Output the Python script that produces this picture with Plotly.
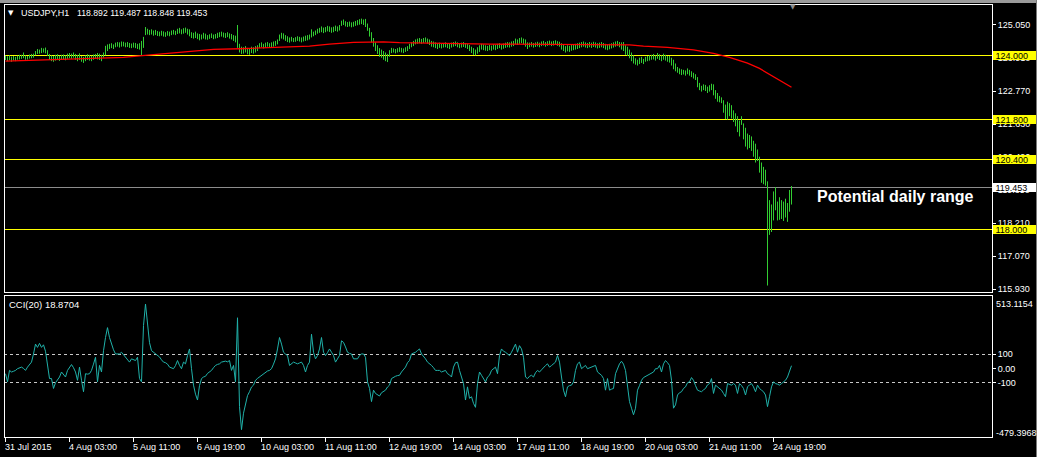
import plotly.graph_objects as go

# ---------------- data ----------------
symbol_title = "USDJPY,H1"
ohlc_title = "118.892 119.487 118.848 119.453"

high = [
    123.99, 123.97, 124.00, 123.96, 123.98, 123.95, 123.99, 124.02,
    124.02, 124.10, 124.00, 123.98, 124.03, 124.05, 124.06,
    124.15, 124.22, 124.20, 124.26, 124.24, 124.27, 124.18,
    124.05, 124.00, 123.98, 124.02, 124.04, 123.99, 124.02, 124.03, 124.00, 124.06,
    124.08, 124.06, 124.10, 124.05, 124.02, 124.07, 123.98, 123.95, 124.00, 124.04, 124.02, 123.99, 124.03, 124.05, 124.08, 124.06, 124.02, 124.10,
    124.33, 124.38, 124.40, 124.42, 124.38, 124.44, 124.46, 124.45, 124.48, 124.47, 124.44, 124.46, 124.43, 124.41, 124.44, 124.43, 124.40, 124.42,
    124.50, 124.64, 124.98,
    124.92, 124.88, 124.90, 124.86, 124.88, 124.84, 124.82, 124.85, 124.83, 124.80, 124.84, 124.82, 124.86, 124.88, 124.85, 124.92, 124.95, 124.90, 124.94, 124.96, 124.92, 124.90, 124.80, 124.78,
    124.82, 124.76, 124.74, 124.72, 124.78, 124.75, 124.70, 124.73, 124.76, 124.72, 124.74, 124.78, 124.80, 124.82, 124.79, 124.77, 124.80, 124.76, 124.74, 124.70, 124.68,
    125.05,
    124.40, 124.30, 124.28, 124.32, 124.26, 124.24, 124.30, 124.28, 124.32, 124.35,
    124.42, 124.45, 124.40, 124.44, 124.46, 124.42, 124.45, 124.48, 124.50, 124.55,
    124.72, 124.78, 124.76, 124.70, 124.66, 124.62, 124.64, 124.60, 124.63, 124.66, 124.64, 124.62, 124.65, 124.68, 124.70, 124.72,
    124.90, 124.82, 124.86, 124.92, 124.95, 125.00, 124.96, 124.98, 125.02, 125.00, 124.97, 124.99, 125.03, 125.00, 125.05,
    125.20, 125.24, 125.18, 125.15, 125.17, 125.14, 125.16, 125.19, 125.22, 125.25, 125.27, 125.24, 125.26,
    125.10, 124.95, 124.80, 124.60, 124.45,
    124.35, 124.25, 124.20, 124.15, 124.10, 124.05, 124.18, 124.26, 124.24, 124.22, 124.25, 124.28, 124.26, 124.24, 124.28, 124.32,
    124.40, 124.45, 124.50, 124.55, 124.58, 124.60, 124.57, 124.60, 124.62, 124.58, 124.55, 124.50, 124.48,
    124.45, 124.42, 124.44, 124.40, 124.43, 124.45, 124.42, 124.40, 124.44, 124.46, 124.48, 124.45, 124.42, 124.44, 124.46, 124.43, 124.40,
    124.36, 124.30, 124.25, 124.20, 124.28, 124.35,
    124.40, 124.38, 124.35, 124.33, 124.36, 124.34, 124.38, 124.36, 124.40, 124.42, 124.38, 124.41, 124.44, 124.46, 124.45, 124.48, 124.50,
    124.58, 124.55, 124.60, 124.62, 124.58, 124.55, 124.45,
    124.44, 124.46, 124.43, 124.45, 124.47, 124.44, 124.48, 124.50, 124.46, 124.49, 124.51, 124.48, 124.50, 124.52, 124.49, 124.47,
    124.42, 124.38, 124.32, 124.35, 124.33, 124.36, 124.38, 124.40, 124.42, 124.44,
    124.46, 124.48, 124.45, 124.43, 124.46, 124.44, 124.47, 124.45, 124.42, 124.44, 124.46, 124.43, 124.40, 124.38, 124.40, 124.42, 124.45, 124.48, 124.50, 124.46,
    124.45, 124.46, 124.35, 124.30, 124.20, 124.10,
    124.00, 123.90, 123.85, 123.92, 123.95, 123.88,
    123.95, 123.98, 124.00, 124.02, 124.05, 124.00, 124.08, 124.04, 124.00, 124.06, 124.02, 123.98,
    123.98, 123.92, 123.85,
    123.72, 123.60, 123.55, 123.52, 123.50, 123.48, 123.55, 123.50, 123.45, 123.40, 123.35,
    123.25, 123.05, 122.95, 123.00, 122.98, 122.92, 122.97, 123.02,
    123.00, 122.80, 122.70, 122.60, 122.55,
    122.45, 122.30, 122.40, 122.35, 122.28, 122.10,
    122.00, 121.90, 121.75, 121.90,
    121.65, 121.50, 121.30, 121.25, 121.20, 121.05, 120.95,
    120.75, 120.50, 120.30,
    120.15, 120.05,
    119.65,
    119.00, 118.85,
    119.30, 119.45,
    118.95, 119.10, 119.00, 118.95, 119.05, 118.90,
    119.35,
    119.487,
]

low = [
    123.84, 123.80, 123.83, 123.78, 123.82, 123.80, 123.85, 123.86,
    123.88, 123.90, 123.85, 123.86, 123.89, 123.90, 123.92,
    124.00, 124.05, 124.06, 124.08, 124.10, 124.07, 123.98,
    123.85, 123.80, 123.78, 123.82, 123.84, 123.81, 123.85, 123.86, 123.83, 123.88,
    123.90, 123.88, 123.92, 123.85, 123.80, 123.84, 123.78, 123.74, 123.80, 123.84, 123.82, 123.80, 123.85, 123.88, 123.86, 123.84, 123.80, 123.92,
    124.00, 124.15, 124.22, 124.25, 124.22, 124.28, 124.30, 124.27, 124.30, 124.31, 124.28, 124.29, 124.26, 124.25, 124.27, 124.25, 124.22, 124.20,
    123.98, 124.26, 124.70,
    124.72, 124.70, 124.72, 124.68, 124.70, 124.67, 124.66, 124.68, 124.65, 124.64, 124.68, 124.66, 124.70, 124.72, 124.70, 124.74, 124.76, 124.73, 124.75, 124.78, 124.72, 124.66, 124.60, 124.58,
    124.60, 124.56, 124.52, 124.55, 124.58, 124.55, 124.54, 124.57, 124.60, 124.56, 124.58, 124.60, 124.63, 124.65, 124.62, 124.60, 124.63, 124.58, 124.55, 124.50, 124.45,
    124.26,
    124.10, 124.05, 124.06, 124.10, 124.04, 124.02, 124.08, 124.06, 124.10, 124.15,
    124.25, 124.28, 124.24, 124.26, 124.30, 124.27, 124.29, 124.30, 124.33, 124.38,
    124.50, 124.58, 124.55, 124.50, 124.46, 124.44, 124.48, 124.46, 124.47, 124.50, 124.48, 124.45, 124.48, 124.50, 124.52, 124.55,
    124.62, 124.66, 124.70, 124.75, 124.78, 124.80, 124.77, 124.80, 124.83, 124.81, 124.78, 124.80, 124.84, 124.82, 124.86,
    125.02, 125.05, 125.00, 124.98, 125.00, 124.97, 124.99, 125.02, 125.04, 125.06, 125.08, 125.05, 124.98,
    124.85, 124.65, 124.45, 124.30, 124.15,
    124.05, 123.95, 123.92, 123.85, 123.80, 123.77, 123.95, 124.08, 124.10, 124.07, 124.10, 124.12, 124.10, 124.08, 124.12, 124.15,
    124.22, 124.28, 124.32, 124.38, 124.40, 124.42, 124.40, 124.43, 124.45, 124.40, 124.36, 124.30, 124.28,
    124.25, 124.22, 124.26, 124.24, 124.27, 124.28, 124.25, 124.22, 124.27, 124.30, 124.32, 124.28, 124.25, 124.27, 124.29, 124.26, 124.22,
    124.15, 124.08, 124.02, 124.00, 124.06, 124.12,
    124.20, 124.18, 124.16, 124.15, 124.18, 124.16, 124.20, 124.18, 124.22, 124.25, 124.20, 124.23, 124.26, 124.28, 124.27, 124.30, 124.32,
    124.38, 124.36, 124.40, 124.42, 124.38, 124.30, 124.22,
    124.28, 124.30, 124.27, 124.29, 124.31, 124.28, 124.32, 124.34, 124.30, 124.33, 124.35, 124.32, 124.34, 124.36, 124.33, 124.30,
    124.20, 124.15, 124.10, 124.14, 124.12, 124.16, 124.18, 124.20, 124.22, 124.25,
    124.28, 124.30, 124.27, 124.25, 124.28, 124.26, 124.29, 124.27, 124.24, 124.26, 124.28, 124.25, 124.20, 124.18, 124.21, 124.24, 124.27, 124.30, 124.32, 124.28,
    124.20, 124.15, 124.02, 123.98, 123.90, 123.80,
    123.72, 123.68, 123.65, 123.70, 123.74, 123.70,
    123.78, 123.80, 123.82, 123.85, 123.86, 123.82, 123.88, 123.84, 123.80, 123.85, 123.82, 123.78,
    123.75, 123.65, 123.52,
    123.45, 123.40, 123.35, 123.32, 123.34, 123.30, 123.35, 123.30, 123.25, 123.20, 123.15,
    122.90, 122.80, 122.75, 122.80, 122.77, 122.70, 122.75, 122.80,
    122.62, 122.50, 122.40, 122.38, 122.35,
    122.02, 121.80, 121.78, 121.90, 121.82, 121.70,
    121.55, 121.35, 121.20, 121.60,
    121.10, 120.85, 120.75, 120.80, 120.70, 120.50, 120.30,
    120.35, 119.95, 119.60,
    119.55, 119.50,
    116.05,
    117.80, 117.90,
    118.30, 118.65,
    118.30, 118.32, 118.35, 118.28, 118.40, 118.25,
    118.60,
    118.848,
]

ma_idx = [0, 11, 29, 49, 59, 67, 72, 86, 104, 117, 131, 152, 162, 174, 189, 197,
          242, 277, 312, 319, 331, 344, 354, 362, 371, 377, 384, 389, 393]
ma_val = [123.80, 123.82, 123.87, 123.90, 123.93, 123.98, 124.01, 124.11, 124.21, 124.23,
          124.27, 124.32, 124.39, 124.45, 124.47, 124.44, 124.39, 124.38, 124.36, 124.32,
          124.28, 124.19, 124.07, 123.93, 123.73, 123.55, 123.26, 123.04, 122.90]

cci = [
    -37, -94, -14, -25, -20, -14, -2, 5, 9, 0,
    -14, 9, 25, 44, 101, 170, 147, 175, 147, 165,
    120, 9, -71, -71, -140, -100, -80, -60, -25, -45,
    -60, -14, 10, 27, 5, -25, -83, 9, -83, -163,
    -37, -40, -37, -14, 30, 78, -94, 21, -25, 124,
    216, 285, 216, 170, 130, 101, 101, 101, 113, 95,
    78, 55, 44, 67, 60, 55, 78, -71, -94, 300,
    450, 285, 180, 124, 113, 100, 90, 80, 60, 44,
    40, 30, 9, 5, -2, 20, 55, 21, -2, 44,
    32, 90, 136, -2, -117, -180, -221, -120, -71, -60,
    -55, -35, -25, -14, 5, 21, 28, 32, 44, 48,
    51, 46, 55, -14, 21, -94, 354, -267, -428, -313,
    -244, -190, -163, -130, -117, -83, -70, -60, -48, -35,
    -25, -18, -14, -2, 30, 67, 136, 216, 170, 113,
    100, 90, 21, 35, 44, 38, 32, 38, 44, 21,
    -25, 21, 44, 239, 113, 67, 90, 136, 216, 113,
    90, 110, 136, 113, 90, 44, 70, 90, 193, 182,
    150, 113, 105, 101, 67, 67, 67, 90, 101, 101,
    78, -94, -140, -232, -152, -175, -185, -193, -170, -163,
    -152, -130, -117, -71, -60, -55, -50, -48, -25, -10,
    9, 40, 55, 101, 105, 113, 125, 136, 101, 85,
    67, 44, 35, 21, 5, -14, -14, -14, -25, -20,
    -14, -37, -45, -60, 9, 40, 44, -14, -71, -106,
    -221, -129, -209, -198, -244, -272, -106, -25, -48, -70,
    -94, -60, -48, -14, -5, 9, -37, 90, 136, 120,
    113, 100, 90, 113, 140, 170, 113, 159, 136, 78,
    -60, -71, -55, -48, -60, -30, -14, -25, -10, 9,
    20, 32, 9, 20, 32, 44, 90, 44, -60, -152,
    -198, -129, -120, -117, -94, -14, 32, 44, -2, 10,
    21, -2, 5, 9, 15, 21, -25, -40, -48, -71,
    -152, -71, -152, -145, -140, -37, 0, 32, 50, 30,
    -14, -140, -232, -278, -324, -278, -152, -120, -83, -64,
    -55, -48, -37, -30, -25, -2, -2, 21, -25, 32,
    55, 40, 21, -83, -278, -255, -186, -170, -163, -140,
    -129, -100, -94, -64, -83, -120, -152, -158, -163, -150,
    -140, -115, -106, -71, -175, -117, -130, -140, -152, -175,
    -198, -106, -112, -117, -106, -117, -175, -106, -120, -140,
    -186, -129, -115, -106, -129, -163, -117, -140, -152, -163,
    -186, -267, -198, -129, -94, -106, -110, -117, -106, -95,
    -83, -60, -14, 18.87,
]
cci_label = "CCI(20) 18.8704"
cci_max, cci_min = 513.1154, -479.3968

time_tick_idx = [0, 32, 64, 96, 128, 160, 192, 224, 256, 288, 320, 352, 384]
time_tick_labels = ["31 Jul 2015", "4 Aug 03:00", "5 Aug 11:00", "6 Aug 19:00",
                    "10 Aug 03:00", "11 Aug 11:00", "12 Aug 19:00", "14 Aug 03:00",
                    "17 Aug 11:00", "18 Aug 19:00", "20 Aug 03:00", "21 Aug 11:00",
                    "24 Aug 19:00"]

price_ticks = [125.05, 123.91, 122.77, 121.63, 120.49, 119.35, 118.21, 117.07, 115.93]
price_tick_labels = ["125.050", "123.910", "122.770", "121.630", "120.490",
                     "119.350", "118.210", "117.070", "115.930"]
yellow_levels = [124.0, 121.8, 120.4, 118.0]
yellow_level_labels = ["124.000", "121.800", "120.400", "118.000"]
bid_level = 119.453
bid_label = "119.453"
note_text = "Potential daily range"

# ---------------- geometry ----------------
W, H = 1037, 457
L, R, T, B = 4, 45, 4, 20
PW, PH = W - L - R, H - T - B


def px(x):
    return (x - L) / PW


def py(y):
    return (H - B - y) / PH


FONT = "Liberation Sans, Arial, sans-serif"

# ---------------- traces ----------------
bx, by = [], []
for i, (h, l) in enumerate(zip(high, low)):
    bx += [i, i, None]
    by += [l, h, None]

fig = go.Figure()
fig.add_trace(go.Scatter(x=bx, y=by, mode="lines", line=dict(color="#32cd32", width=1),
                         xaxis="x", yaxis="y", hoverinfo="skip"))
fig.add_trace(go.Scatter(x=ma_idx, y=ma_val, mode="lines", line=dict(color="#ff0000", width=1.3),
                         xaxis="x", yaxis="y", hoverinfo="skip"))
fig.add_trace(go.Scatter(x=list(range(len(cci))), y=cci, mode="lines",
                         line=dict(color="#20b2aa", width=1),
                         xaxis="x", yaxis="y2", hoverinfo="skip"))

shapes = []
for lv in yellow_levels:
    shapes.append(dict(type="line", xref="paper", yref="y", x0=0, x1=1, y0=lv, y1=lv,
                       line=dict(color="#ffff00", width=1), layer="below"))
shapes.append(dict(type="line", xref="paper", yref="y", x0=0, x1=1, y0=bid_level, y1=bid_level,
                   line=dict(color="#8c8c8c", width=1), layer="below"))
for lv in (100, -100):
    shapes.append(dict(type="line", xref="paper", yref="y2", x0=0, x1=1, y0=lv, y1=lv,
                       line=dict(color="#c8c8c8", width=1, dash="3px,3px"), layer="below"))
shapes.append(dict(type="rect", xref="paper", yref="paper", x0=0, x1=1, y0=py(292), y1=1,
                   line=dict(color="white", width=1)))
shapes.append(dict(type="rect", xref="paper", yref="paper", x0=0, x1=1, y0=0, y1=py(295),
                   line=dict(color="white", width=1)))
shapes.append(dict(type="rect", xref="paper", yref="paper", x0=px(0), x1=px(W), y0=py(2.5), y1=py(0),
                   line=dict(width=0), fillcolor="#9a9a9a"))
shapes.append(dict(type="line", xref="paper", yref="paper", x0=px(1036.5), x1=px(1036.5), y0=py(H), y1=py(0),
                   line=dict(color="#7a7a7a", width=1)))

ann = []
for lv, lab in zip(yellow_levels, yellow_level_labels):
    ann.append(dict(xref="paper", yref="y", x=1, y=lv, xanchor="left", yanchor="middle",
                    xshift=1, text="\u00a0" + lab, showarrow=False, align="left",
                    width=43, height=9, bgcolor="#ffff00", borderpad=0, borderwidth=0,
                    font=dict(family=FONT, size=9, color="black")))
ann.append(dict(xref="paper", yref="y", x=1, y=bid_level, xanchor="left", yanchor="middle",
                xshift=1, text="\u00a0" + bid_label, showarrow=False, align="left",
                width=43, height=9, bgcolor="#ffffff", borderpad=0, borderwidth=0,
                font=dict(family=FONT, size=9, color="black")))
ann.append(dict(xref="paper", yref="paper", x=px(996), y=py(304), xanchor="left", yanchor="middle",
                text=f"{cci_max:.4f}", showarrow=False, borderpad=0, borderwidth=0,
                font=dict(family=FONT, size=9, color="white")))
ann.append(dict(xref="paper", yref="paper", x=px(996), y=py(432.5), xanchor="left", yanchor="middle",
                text=f"{cci_min:.4f}", showarrow=False, borderpad=0, borderwidth=0,
                font=dict(family=FONT, size=9, color="white")))
for idx, lab in zip(time_tick_idx, time_tick_labels):
    ann.append(dict(xref="x", yref="paper", x=idx, y=py(446.5), xanchor="left", yanchor="middle",
                    xshift=-1, text=lab, showarrow=False, borderpad=0, borderwidth=0,
                    font=dict(family=FONT, size=9, color="white")))
ann.append(dict(xref="paper", yref="paper", x=px(7.5), y=py(12.5), xanchor="left", yanchor="middle",
                text="\u25bc", showarrow=False, borderpad=0, borderwidth=0,
                font=dict(family="DejaVu Sans", size=7, color="white")))
ann.append(dict(xref="paper", yref="paper", x=px(20.5), y=py(12.5), xanchor="left", yanchor="middle",
                text=symbol_title, showarrow=False, borderpad=0, borderwidth=0,
                font=dict(family=FONT, size=9, color="white")))
ann.append(dict(xref="paper", yref="paper", x=px(77), y=py(12.5), xanchor="left", yanchor="middle",
                text=ohlc_title, showarrow=False, borderpad=0, borderwidth=0,
                font=dict(family=FONT, size=8.7, color="white")))
ann.append(dict(xref="paper", yref="paper", x=px(9), y=py(304), xanchor="left", yanchor="middle",
                text=cci_label, showarrow=False, borderpad=0, borderwidth=0,
                font=dict(family=FONT, size=9.5, color="white")))
ann.append(dict(xref="paper", yref="paper", x=px(817), y=py(196.5), xanchor="left", yanchor="middle",
                text=f"<b>{note_text}</b>", showarrow=False, borderpad=0, borderwidth=0,
                font=dict(family=FONT, size=16, color="white")))
ann.append(dict(xref="paper", yref="paper", x=px(793), y=py(7), xanchor="center", yanchor="middle",
                text="\u25bc", showarrow=False, borderpad=0, borderwidth=0,
                font=dict(family="DejaVu Sans", size=7, color="#8a8a8a")))

n_span = PW / 2.0
fig.update_layout(
    width=W, height=H,
    margin=dict(l=L, r=R, t=T, b=B, pad=0),
    paper_bgcolor="black", plot_bgcolor="black",
    showlegend=False, hovermode=False,
    xaxis=dict(domain=[0, 1], range=[-0.75, -0.75 + n_span], anchor="y2",
               showgrid=False, zeroline=False, showline=False,
               tickmode="array", tickvals=time_tick_idx, showticklabels=False,
               ticks="outside", ticklen=4, tickcolor="white", tickwidth=1),
    yaxis=dict(domain=[py(292), 1], range=[115.827, 125.775], anchor="x", side="right",
               showgrid=False, zeroline=False, showline=False,
               tickmode="array", tickvals=price_ticks, ticktext=price_tick_labels,
               ticks="outside", ticklen=3, tickcolor="white", tickwidth=1,
               tickfont=dict(family=FONT, size=9, color="white")),
    yaxis2=dict(domain=[0, py(295)], range=[cci_min, cci_max], anchor="x", side="right",
                showgrid=False, zeroline=False, showline=False,
                tickmode="array", tickvals=[100, 0, -100], ticktext=["100", "0.00", "-100"],
                ticks="outside", ticklen=3, tickcolor="white", tickwidth=1,
                tickfont=dict(family=FONT, size=9, color="white")),
    shapes=shapes,
    annotations=ann,
)

post = (
    "document.body.style.margin='0';"
    "document.body.style.background='black';"
    "var st=document.createElement('style');"
    "st.innerHTML='.shapelayer path{shape-rendering:crispEdges}';"
    "document.head.appendChild(st);"
)

fig.write_html("out.html", config={"displayModeBar": False}, post_script=post)
